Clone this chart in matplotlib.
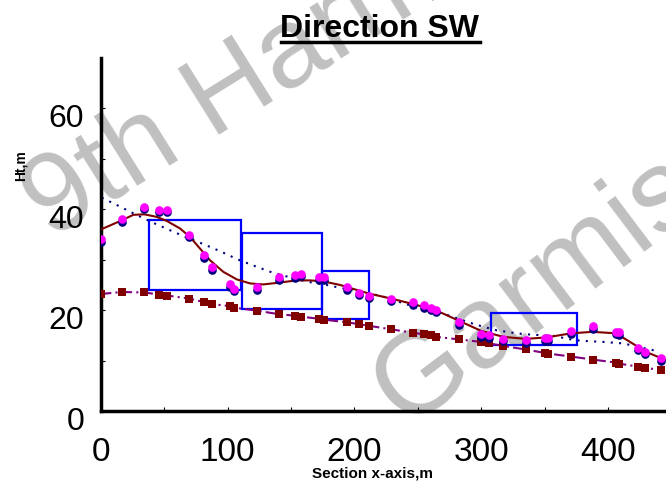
import matplotlib
matplotlib.use('Agg')
import matplotlib.pyplot as plt
import matplotlib.transforms as mtrans
from matplotlib.patches import Rectangle
from matplotlib.lines import Line2D

plt.rcParams['font.family'] = ['Liberation Sans', 'DejaVu Sans']

# ---------------- data ----------------
station_x = [0.2, 16.5, 34.4, 45.9, 52.2, 69.8, 81.4, 87.7, 101.9, 105.0,
             122.9, 140.5, 152.9, 158.1, 171.8, 176.2, 193.9, 203.8, 211.2, 228.8,
             246.3, 254.8, 260.5, 264.2, 282.3, 299.7, 306.0, 317.3, 334.9, 350.4,
             352.3, 370.6, 387.7, 406.1, 408.2, 423.6, 428.7, 441.5]
height_obs = [34.1, 38.0, 40.5, 39.9, 39.9, 35.0, 30.9, 28.5, 25.1, 24.2,
              24.5, 26.5, 26.9, 27.2, 26.5, 26.5, 24.5, 23.4, 22.9, 22.3,
              21.6, 21.0, 20.5, 20.1, 17.6, 15.2, 15.0, 14.3, 14.0, 14.4,
              14.4, 15.8, 16.8, 15.7, 15.6, 12.5, 11.7, 10.5]
height_base = [23.2, 23.6, 23.5, 23.1, 22.9, 22.3, 21.6, 21.2, 20.8, 20.5,
               19.9, 19.2, 18.9, 18.7, 18.3, 18.1, 17.6, 17.2, 16.9, 16.2,
               15.5, 15.2, 15.0, 14.7, 14.2, 13.7, 13.4, 12.9, 12.2, 11.5,
               11.4, 10.8, 10.2, 9.6, 9.4, 8.8, 8.6, 8.1]

smooth_x = [0.2, 16.5, 25.7, 34.4, 44.1, 52.0, 62.5, 70.4, 78.3, 86.1,
            96.6, 107.2, 117.7, 128.1, 138.7, 154.5, 164.9, 175.4, 188.6, 193.9,
            211.2, 228.8, 246.3, 264.8, 282.3, 299.7, 317.3, 334.9, 351.5, 370.6,
            387.7, 406.1, 423.6, 432.8, 445.5]
smooth_y = [36.0, 37.8, 38.9, 39.0, 38.5, 37.7, 36.2, 34.5, 32.2, 29.9,
            27.6, 26.1, 25.3, 25.1, 25.4, 25.9, 25.9, 25.7, 25.0, 24.6,
            23.3, 22.3, 21.2, 19.9, 17.9, 15.9, 14.7, 14.3, 14.6, 15.4,
            15.7, 15.4, 12.7, 11.4, 10.1]

trend_x = [0.8, 13.9, 27.3, 40.7, 54.1, 67.8, 80.9, 94.0, 107.6, 120.8,
           134.8, 149.2, 163.6, 178.1, 185.4, 221.4, 249.0, 270.0, 291.0, 301.5,
           312.1, 327.8, 335.7, 356.7, 372.4, 380.3, 396.1, 411.8, 438.1]
trend_y = [42.3, 40.7, 39.0, 37.4, 35.9, 34.4, 33.1, 31.7, 30.1, 28.8,
           27.5, 26.5, 25.6, 25.0, 24.6, 22.8, 20.5, 19.3, 17.5, 16.7,
           16.0, 15.4, 15.2, 14.9, 14.1, 13.9, 13.7, 13.4, 11.9]

box_x0 = [37.8, 111.6, 174.2, 307.3]
box_x1 = [110.8, 174.2, 211.2, 375.1]
box_y0 = [23.9, 20.3, 18.2, 13.0]
box_y1 = [37.8, 35.3, 27.8, 19.5]

x_ticks = [0, 100, 200, 300, 400]
y_ticks = [0, 20, 40, 60]

# ---------------- figure ----------------
W, H = 666, 487
fig = plt.figure(figsize=(W / 100, H / 100), dpi=100)

def fx(px):
    return px / W

def fy(py):
    return 1 - py / H

ax = fig.add_axes([fx(100.7), fy(411), fx(666) - fx(100.7), fy(58) - fy(411)])
ax.patch.set_alpha(0)

# watermark
fig.text(fx(50), fy(240), '9th Harmonic', rotation=32, rotation_mode='anchor',
         ha='left', va='baseline', fontsize=82, color='#c0c0c0', zorder=-5)
fig.text(fx(405), fy(428), 'Garmisch', rotation=37, rotation_mode='anchor',
         ha='left', va='baseline', fontsize=84, color='#c0c0c0', zorder=-5)

# boxes
for x0, x1, y0, y1 in zip(box_x0, box_x1, box_y0, box_y1):
    ax.add_patch(Rectangle((x0, y0), x1 - x0, y1 - y0, fill=False,
                           edgecolor='#0000FF', linewidth=1.6, zorder=3))

# dotted trend
ax.plot(trend_x, trend_y, color='#000080', linewidth=1.5,
        linestyle=(0, (1, 3)), zorder=2)
# smooth curve
ax.plot(smooth_x, smooth_y, color='#800000', linewidth=1.5, zorder=4)
# base line + squares
ax.plot(station_x, height_base, color='#800080', linewidth=1.5,
        linestyle=(0, (5, 2, 1, 2)), zorder=4)
ax.plot(station_x, height_base, 's', color='#800000', markersize=6.4,
        markeredgewidth=0, zorder=5)
# observed circles: navy shadow below, magenta on top
shadow = ax.transData + mtrans.ScaledTranslation(0, -2.5 / 100, fig.dpi_scale_trans)
ax.plot(station_x, height_obs, 'o', markersize=6.2, color='#000080',
        markeredgewidth=0, transform=shadow, zorder=6)
ax.plot(station_x, height_obs, 'o', markersize=6.2, color='#FF00FF',
        markeredgewidth=0, zorder=7)

ax.set_xlim(0, 445.5)
ax.set_ylim(0, 70)
for s in ['top', 'right']:
    ax.spines[s].set_visible(False)
for s in ['left', 'bottom']:
    ax.spines[s].set_linewidth(2.5)

ax.set_xticks(x_ticks)
ax.set_yticks(y_ticks)
ax.set_xticks([50, 150, 250, 350], minor=True)
ax.set_yticks([10, 30, 50], minor=True)
ax.tick_params(axis='both', which='both', direction='in', length=3, width=0.8)
ax.tick_params(axis='x', which='major', labelsize=24, pad=19)
ax.tick_params(axis='y', which='major', labelsize=23, pad=12)

off = mtrans.ScaledTranslation(0, -7 / 100, fig.dpi_scale_trans)
for lab in ax.get_yticklabels():
    lab.set_transform(lab.get_transform() + off)

fig.text(fx(21), fy(166), 'Ht,m', rotation=90, ha='center', va='center',
         fontsize=10, fontweight='bold')
fig.text(fx(373), fy(473), 'Section x-axis,m', ha='center', va='center',
         fontsize=11, fontweight='bold')

title = fig.text(fx(380), fy(37), 'Direction SW', ha='center', va='baseline',
                 fontsize=23, fontweight='bold')
renderer = fig.canvas.get_renderer()
bb = title.get_window_extent(renderer)
fig.add_artist(Line2D([bb.x0 / W, bb.x1 / W], [fy(42), fy(42)],
                      transform=fig.transFigure, color='black', linewidth=2.5))

fig.savefig('out.png', dpi=100)
